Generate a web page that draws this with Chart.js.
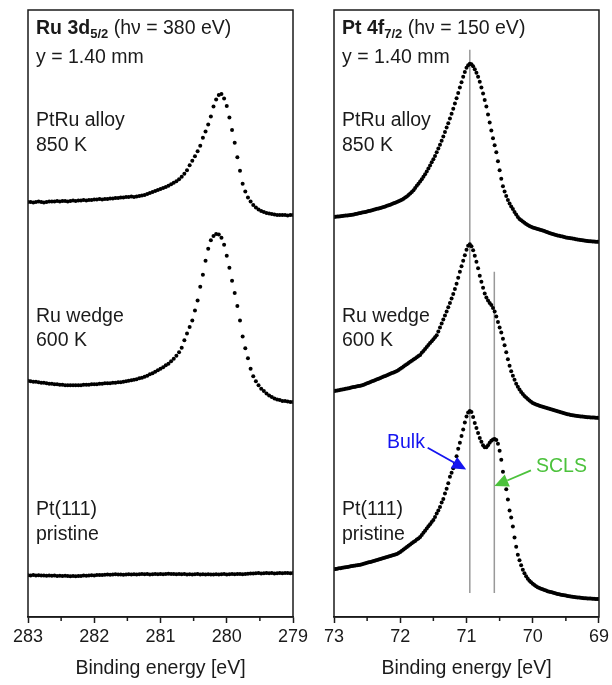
<!DOCTYPE html>
<html>
<head>
<meta charset="utf-8">
<script src="https://cdn.jsdelivr.net/npm/chart.js@4.4.0/dist/chart.umd.min.js"></script>
<style>
body { margin: 0; background: #fff; }
#wrap { position: relative; width: 612px; height: 685px; font-family: "Liberation Sans", Arial, sans-serif; color: #1a1a1a; }
canvas { position: absolute; top: 0; }
.lbl { position: absolute; font-size: 19.5px; line-height: 19.5px; white-space: nowrap; }
.lbl sub { font-size: 13px; line-height: 0; vertical-align: -4px; }
</style>
</head>
<body>
<div id="wrap">
  <canvas id="ruChart" width="312" height="685" style="left:0"></canvas>
  <canvas id="ptChart" width="300" height="685" style="left:312px"></canvas>

  <div class="lbl" style="left:36px;top:18px"><b>Ru 3d<sub>5/2</sub></b> (h&nu; = 380 eV)</div>
  <div class="lbl" style="left:36px;top:47px">y = 1.40 mm</div>
  <div class="lbl" style="left:36px;top:110px">PtRu alloy</div>
  <div class="lbl" style="left:36px;top:135px">850 K</div>
  <div class="lbl" style="left:36px;top:306px">Ru wedge</div>
  <div class="lbl" style="left:36px;top:330px">600 K</div>
  <div class="lbl" style="left:36px;top:499px">Pt(111)</div>
  <div class="lbl" style="left:36px;top:524px">pristine</div>

  <div class="lbl" style="left:342px;top:18px"><b>Pt 4f<sub>7/2</sub></b> (h&nu; = 150 eV)</div>
  <div class="lbl" style="left:342px;top:47px">y = 1.40 mm</div>
  <div class="lbl" style="left:342px;top:110px">PtRu alloy</div>
  <div class="lbl" style="left:342px;top:135px">850 K</div>
  <div class="lbl" style="left:342px;top:306px">Ru wedge</div>
  <div class="lbl" style="left:342px;top:330px">600 K</div>
  <div class="lbl" style="left:342px;top:499px">Pt(111)</div>
  <div class="lbl" style="left:342px;top:524px">pristine</div>

  <div class="lbl" style="left:387px;top:432px;color:#1414f0">Bulk</div>
  <div class="lbl" style="left:536px;top:456px;color:#4cc23c">SCLS</div>
</div>

<script>
// energy grids (eV), binding energy decreasing left to right
var ruStart = 283, ruStep = 0.04;
var ptStart = 73, ptStep = 0.025;

var ruTicks = [283, 282, 281, 280, 279];
var ptTicks = [73, 72, 71, 70, 69];

// Ru 3d5/2 intensities (arb. units, stacked)
var ruAlloy = [417,417,416.5,417,417.5,417,416.5,417,417.5,417.5,
  417.5,418,417.5,418,418,417.5,418,418.5,418,418.5,
  418.5,419,418.5,419,419,419.5,419.5,420,419.5,420,
  420,420.5,420.5,421,421,421.5,421.5,422,422,422.5,
  422,422.5,423,423.5,424,425,426,427,428,429,
  430,431,432,433.5,435,436.5,438,440,442.5,445.5,
  449,454,458.5,463,468,473.5,481.5,488,495,503,
  513,520,524.5,525.5,521,513.5,502,489.5,476.5,462,
  448.5,435.5,427.5,421.5,417.5,414,411.5,409.5,408,407,
  406,405.5,405,404.5,404,404,404,404,403.5,404,404];

var ruWedge = [237.5,237,236.5,236.5,236,235.5,235.5,235,234.5,234.5,
  234,234,233.5,233.5,233,233,233,233,233,233,
  233,233.5,233.5,233.5,234,234,234,234.5,234.5,235,
  235,235,235.5,235.5,236,236,236.5,237,237.5,238,
  238.5,239,240,240.5,241.5,242.5,244,245,246.5,248,
  249.5,251,253,254.5,257,259.5,262.5,266,270.5,278,
  285,291.5,298,308,318,332,344,358,370,378.5,
  383,385,384.5,381,374,363,351,338,325.5,312.5,
  298,282,270,260,249.5,242,237,233,229.5,227,
  224.5,222.5,221,219.5,218.5,218,217,217,216.5,216,216];

var ruPristine = [42.0,41.8,42.1,41.7,41.9,41.6,41.8,41.5,41.7,41.4,
  41.6,41.3,41.5,41.2,41.4,41.1,41.0,41.2,40.9,41.1,
  41.3,41.6,41.4,41.8,42.0,41.8,42.1,42.3,42.1,42.4,
  42.6,42.4,42.7,42.9,42.6,42.8,42.5,42.7,43.0,42.8,
  43.0,42.7,42.9,43.2,42.9,43.1,42.8,43.0,43.3,43.0,
  43.2,42.9,43.1,43.4,43.1,43.3,43.0,43.2,42.9,43.1,
  42.8,43.0,42.7,42.9,43.1,42.8,43.0,42.7,42.9,42.6,
  42.8,43.0,42.7,42.9,43.1,42.8,43.0,43.2,42.9,43.1,
  43.3,43.0,43.2,43.5,43.8,43.6,43.9,44.1,43.8,44.0,
  44.2,43.9,44.1,43.8,44.0,44.2,43.9,44.1,44.3,44.0,44.2];

// Pt 4f7/2 intensities (arb. units, stacked)
var ptAlloy = [402.0,402.2,402.4,402.6,402.8,403.0,403.2,403.4,403.6,403.8,
  404.0,404.3,404.6,405.0,405.3,405.7,406.0,406.4,406.7,407.1,
  407.5,407.9,408.3,408.8,409.2,409.7,410.2,410.6,411.1,411.6,
  412.0,412.6,413.2,413.8,414.4,415.0,415.7,416.4,417.1,417.8,
  418.5,419.4,420.4,421.5,422.7,424.0,425.5,427.1,428.9,431.1,
  433.5,435.5,437.7,440.0,442.4,445.0,447.8,450.7,453.7,456.9,
  460.0,463.4,467.0,470.7,474.6,478.7,483.0,487.4,491.8,496.3,
  501.0,505.8,510.8,516.0,521.3,526.7,532.0,537.4,542.8,547.8,
  552.0,554.5,556.0,555.5,553.5,550.5,547.0,543.0,538.0,532.0,
  526.0,519.5,513.0,505.0,497.0,489.0,481.0,474.0,467.0,458.0,
  449.0,440.5,433.0,427.5,423.0,419.0,415.5,412.5,410.0,407.0,
  404.5,402.0,400.0,398.7,397.5,396.2,395.0,394.0,393.0,392.2,
  391.5,391.0,390.5,390.0,389.5,389.0,388.4,387.8,387.2,386.6,
  386.0,385.5,385.0,384.5,384.0,383.5,383.1,382.7,382.3,381.9,
  381.5,381.2,380.9,380.6,380.3,380.0,379.7,379.4,379.1,378.8,
  378.5,378.3,378.1,377.9,377.7,377.5,377.4,377.3,377.2,377.1,377.0];

var ptWedge = [227,227.3,227.6,227.9,228.3,228.6,228.9,229.3,229.6,230.0,
  230.4,230.8,231.1,231.5,231.8,232.1,232.5,232.8,
  233.4,234.1,234.8,235.4,236.1,236.8,237.5,238.1,238.8,239.5,240.2,240.9,
  241.6,242.3,243.0,243.7,244.4,245.1,245.8,246.5,247.1,
  248.2,249.4,250.5,251.7,252.9,254.0,255.2,256.4,257.6,258.7,259.9,261.1,262.3,263.4,
  265.5,267.4,269.4,271.4,273.3,275.3,277.2,279.2,281.1,283.1,
  287,291,295,299,303,307,
  311.4,315.5,320,324.5,
  329.5,335,341,347,
  352.5,358,363.5,
  369,373,374.5,372.5,368.5,363,357,350.5,343,337,331,325,321,318,315.5,313.5,310.5,307,302,296.5,
  291,286,279.5,273,266,259,252.5,247,242.5,238.5,234.5,231.5,228.5,226,224,222.2,220.5,219,217.5,216.2,215,
  214.3,213.6,213,212.4,211.8,211.2,210.7,210.2,209.7,209.2,208.7,208.2,207.7,207.2,206.7,206.2,205.7,205.2,204.7,204.2,
  203.7,203.4,203.1,202.8,202.5,202.2,202,201.8,201.6,201.4,201.2,201,200.8,200.7,200.6,200.5,200.4,200.3,200.2,200.1];

var ptPristine = [48,48.3,48.6,48.9,49.1,49.4,49.7,50,50.3,50.6,50.9,51.2,51.5,51.7,52,52.3,52.6,52.9,
  53.4,53.9,54.4,54.9,55.3,55.8,56.3,56.8,57.3,57.8,58.3,58.8,59.3,59.8,60.3,60.8,61.3,61.8,62.3,62.8,63.2,
  64.2,65.4,66.7,67.9,69.1,70.4,71.6,72.8,74.1,75.3,76.5,77.8,79,80.3,
  82.4,84.6,86.7,88.9,91.1,93.2,95.4,97.5,
  100.5,104,107,110.5,115,118.5,
  124,129,134.5,141,
  145,149.5,154,
  161.5,169,
  175,182,188.5,195.5,201.5,205.5,207,206,201,195,190,185,180,176,172.5,170.5,170.5,172.5,175,177,178.5,179,178,174,
  167,158,146,137,128.5,118,107,100,91,80,70.5,62.5,57,52,47.5,44,41,38.5,36.5,35,33.5,
  32.2,31,30,29.2,28.5,27.8,27.2,26.6,26,25.5,
  25,24.5,24,23.6,23.2,22.8,22.4,22.1,21.8,21.5,
  21.2,20.9,20.6,20.3,20.1,19.9,19.7,19.5,19.3,19.1,18.9,18.8,18.7,18.6,18.5,18.4,18.3,18.2,18.1,18];

// component positions (eV) and marker extents (intensity)
var bulkEnergy = 70.95, sclsEnergy = 70.58;
var bulkLine = [570, 24], sclsLine = [347, 24];
var bulkArrow = [[71.586, 170], [71.005, 148.3]];
var sclsArrow = [[70.027, 147.3], [70.579, 131.7]];

var ink = '#1a1a1a';

function toPoints(values, start, step) {
    return values.map(function (v, i) {
        return { x: +(start - i * step).toFixed(3), y: v };
    });
}

function traceSet(values, start, step) {
    return {
        data: toPoints(values, start, step),
        showLine: false,
        pointRadius: 2,
        pointHoverRadius: 0,
        pointBorderWidth: 0,
        pointBackgroundColor: '#000'
    };
}

var framePlugin = {
    id: 'frame',
    afterDraw: function (chart) {
        var ctx = chart.ctx, a = chart.chartArea, x = chart.scales.x;
        ctx.save();
        ctx.strokeStyle = ink;
        ctx.lineWidth = 1.5;
        ctx.strokeRect(a.left, a.top, a.right - a.left, a.bottom - a.top);
        // minor ticks at half eV
        for (var v = x.min + 0.5; v < x.max; v += 1) {
            var px = x.getPixelForValue(v);
            ctx.beginPath();
            ctx.moveTo(px, a.bottom);
            ctx.lineTo(px, a.bottom + 4);
            ctx.stroke();
        }
        ctx.restore();
    }
};

function drawArrow(ctx, x0, y0, x1, y1, color) {
    var ang = Math.atan2(y1 - y0, x1 - x0);
    var len = 14, half = 6.5;
    var bx = x1 - len * Math.cos(ang), by = y1 - len * Math.sin(ang);
    ctx.strokeStyle = color;
    ctx.fillStyle = color;
    ctx.lineWidth = 1.8;
    ctx.beginPath();
    ctx.moveTo(x0, y0);
    ctx.lineTo(bx, by);
    ctx.stroke();
    ctx.beginPath();
    ctx.moveTo(x1, y1);
    ctx.lineTo(bx + half * Math.sin(ang), by - half * Math.cos(ang));
    ctx.lineTo(bx - half * Math.sin(ang), by + half * Math.cos(ang));
    ctx.closePath();
    ctx.fill();
}

var markerPlugin = {
    id: 'markers',
    beforeDatasetsDraw: function (chart) {
        var ctx = chart.ctx, x = chart.scales.x, y = chart.scales.y;
        ctx.save();
        ctx.strokeStyle = '#999';
        ctx.lineWidth = 1.5;
        [[bulkEnergy, bulkLine], [sclsEnergy, sclsLine]].forEach(function (m) {
            var px = x.getPixelForValue(m[0]);
            ctx.beginPath();
            ctx.moveTo(px, y.getPixelForValue(m[1][0]));
            ctx.lineTo(px, y.getPixelForValue(m[1][1]));
            ctx.stroke();
        });
        ctx.restore();
    },
    afterDatasetsDraw: function (chart) {
        var ctx = chart.ctx, x = chart.scales.x, y = chart.scales.y;
        ctx.save();
        drawArrow(ctx, x.getPixelForValue(bulkArrow[0][0]), y.getPixelForValue(bulkArrow[0][1]),
            x.getPixelForValue(bulkArrow[1][0]), y.getPixelForValue(bulkArrow[1][1]), '#1414f0');
        drawArrow(ctx, x.getPixelForValue(sclsArrow[0][0]), y.getPixelForValue(sclsArrow[0][1]),
            x.getPixelForValue(sclsArrow[1][0]), y.getPixelForValue(sclsArrow[1][1]), '#4cc23c');
        ctx.restore();
    }
};

function makeChart(id, sets, ticks, pad, plugins) {
    return new Chart(document.getElementById(id), {
        type: 'scatter',
        data: { datasets: sets },
        options: {
            responsive: false,
            animation: false,
            events: [],
            layout: { padding: pad },
            plugins: { legend: { display: false }, tooltip: { enabled: false } },
            scales: {
                x: {
                    type: 'linear',
                    reverse: true,
                    min: ticks[ticks.length - 1],
                    max: ticks[0],
                    afterBuildTicks: function (axis) {
                        axis.ticks = ticks.map(function (t) { return { value: t }; });
                    },
                    border: { display: true, color: ink, width: 1.5 },
                    grid: { drawOnChartArea: false, drawTicks: true, tickLength: 6, tickColor: ink, tickWidth: 1.5 },
                    ticks: {
                        color: ink,
                        padding: 3,
                        maxRotation: 0,
                        font: { family: '"Liberation Sans", Arial, sans-serif', size: 18 }
                    },
                    title: {
                        display: true,
                        text: 'Binding energy [eV]',
                        color: ink,
                        padding: { top: 6, bottom: 0 },
                        font: { family: '"Liberation Sans", Arial, sans-serif', size: 19.5 }
                    }
                },
                y: { display: false, min: 0, max: 610 }
            }
        },
        plugins: plugins
    });
}

makeChart('ruChart', [
    traceSet(ruAlloy, ruStart, ruStep),
    traceSet(ruWedge, ruStart, ruStep),
    traceSet(ruPristine, ruStart, ruStep)
], ruTicks, { left: 28, right: 19, top: 10, bottom: 5 }, [framePlugin]);

makeChart('ptChart', [
    traceSet(ptAlloy, ptStart, ptStep),
    traceSet(ptWedge, ptStart, ptStep),
    traceSet(ptPristine, ptStart, ptStep)
], ptTicks, { left: 22, right: 12, top: 10, bottom: 5 }, [framePlugin, markerPlugin]);
</script>
</body>
</html>
